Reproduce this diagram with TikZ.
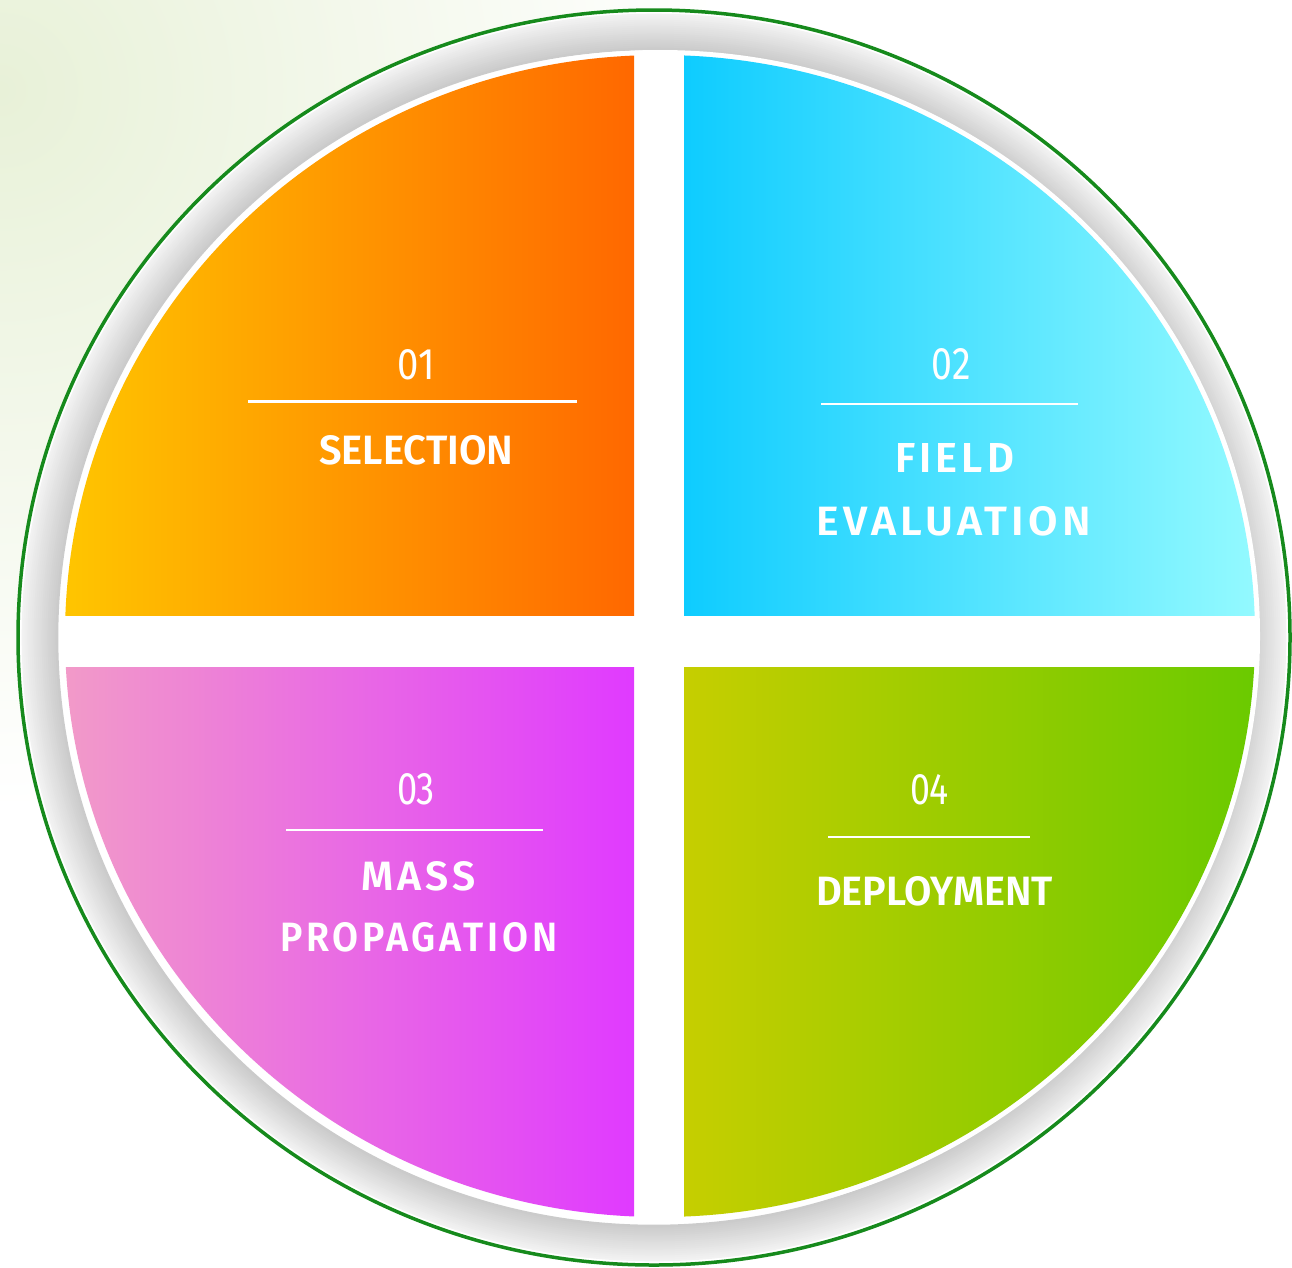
\documentclass[tikz,border=0pt]{standalone}
\usepackage{graphicx}
\usepackage{fontspec}
\newfontfamily\numfont{Fira Sans}
\newfontfamily\ttlfont{Fira Sans SemiBold}
\newfontfamily\spcfont{Fira Sans SemiBold}[LetterSpace=10]
\definecolor{orA}{RGB}{255,198,0}
\definecolor{orB}{RGB}{255,104,0}
\definecolor{cyA}{RGB}{14,204,255}
\definecolor{cyB}{RGB}{148,250,255}
\definecolor{pkA}{RGB}{242,155,200}
\definecolor{pkB}{RGB}{224,58,255}
\definecolor{grA}{RGB}{198,206,0}
\definecolor{grB}{RGB}{106,202,0}
\definecolor{ringgreen}{RGB}{22,138,28}
\definecolor{tint}{RGB}{232,241,216}
\tikzset{
  rule/.style={white, line width=2.6pt},
  lbl/.style={inner sep=0pt, outer sep=0pt, text=white},
}
\begin{document}
\begin{tikzpicture}[x=1pt, y=-1pt]
\useasboundingbox (0,0) rectangle (1292,1267);
% background with faint green tint at top-left
\fill[white] (0,0) rectangle (1292,1267);
\begin{scope}
  \clip (0,0) rectangle (1292,1267);
  \shade[inner color=tint, outer color=white] (0,90) circle (720pt);
\end{scope}
% outer disc and grey ring
\fill[white] (654,637.5) ellipse [x radius=636pt, y radius=627.5pt];
\foreach \k in {0,...,17} {
  \pgfmathsetmacro\rx{631-2*\k}
  \pgfmathsetmacro\ry{622.5-2*\k}
  \pgfmathsetmacro\pc{5+0.9*\k}
  \draw[line width=2.6pt, black!\pc] (654,637.5) ellipse [x radius=\rx pt, y radius=\ry pt];
}
% inner white disc
\fill[white] (660,636) ellipse [x radius=600pt, y radius=586pt];
% coloured quadrants
\begin{scope}
  \clip (660,636) ellipse [x radius=595pt, y radius=581pt];
  \shade[left color=orA, right color=orB] (60,50) rectangle (634,615);
  \shade[left color=cyA, right color=cyB] (684,50) rectangle (1258,615);
  \shade[left color=pkA, right color=pkB] (60,667) rectangle (634,1222);
  \shade[left color=grA, right color=grB] (684,667) rectangle (1258,1222);
\end{scope}
% green outline
\draw[ringgreen, line width=3.5pt] (654,637.5) ellipse [x radius=636pt, y radius=627.5pt];
% quadrant 1
\node[lbl] (n1) at (416.5,364.5) {\resizebox{37pt}{30pt}{\numfont 01}};
\coordinate (a1) at (248,401.7);
\coordinate (b1) at (577,401.7);
\draw[rule] (a1) -- (b1);
\node[lbl] (t1) at (416.3,450) {\resizebox{194pt}{29pt}{\ttlfont SELECTION}};
% quadrant 2
\node[lbl] (n2) at (951,364) {\resizebox{39pt}{31pt}{\numfont 02}};
\coordinate (a2) at (821,404);
\coordinate (b2) at (1078,404);
\draw[rule] (a2) -- (b2);
\node[lbl] (t2a) at (954.5,457.5) {\resizebox{119pt}{29pt}{\spcfont FIELD}};
\node[lbl] (t2b) at (953.7,521) {\resizebox{274pt}{29pt}{\spcfont EVALUATION}};
% quadrant 3
\node[lbl] (n3) at (416,789.5) {\resizebox{38pt}{31pt}{\numfont 03}};
\coordinate (a3) at (286,830);
\coordinate (b3) at (543,830);
\draw[rule] (a3) -- (b3);
\node[lbl] (t3a) at (418.7,876) {\resizebox{114pt}{29pt}{\spcfont MASS}};
\node[lbl] (t3b) at (418.7,937.5) {\resizebox{277pt}{29pt}{\spcfont PROPAGATION}};
% quadrant 4
\node[lbl] (n4) at (929.5,790) {\resizebox{39pt}{30pt}{\numfont 04}};
\coordinate (a4) at (828,837);
\coordinate (b4) at (1030,837);
\draw[rule] (a4) -- (b4);
\node[lbl] (t4) at (934.5,891) {\resizebox{237pt}{29pt}{\ttlfont DEPLOYMENT}};
\end{tikzpicture}
\end{document}
